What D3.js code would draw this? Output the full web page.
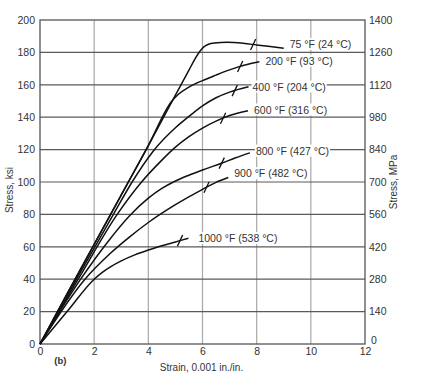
<!DOCTYPE html>
<html>
<head>
<meta charset="utf-8">
<script src="https://cdn.jsdelivr.net/npm/d3@7"></script>
<style>
  html, body { margin: 0; padding: 0; background: #fff; }
  svg { display: block; }
</style>
</head>
<body>
<div id="chart"></div>
<script>
// Stress-strain curves at elevated temperatures, panel (b).

const strainTicks = [0, 2, 4, 6, 8, 10, 12];
const ksiTicks = [0, 20, 40, 60, 80, 100, 120, 140, 160, 180, 200];
const mpaTicks = [0, 140, 280, 420, 560, 700, 840, 980, 1120, 1260, 1400];

const tempLabels = [
  "75 °F (24 °C)", "200 °F (93 °C)", "400 °F (204 °C)", "600 °F (316 °C)",
  "800 °F (427 °C)", "900 °F (482 °C)", "1000 °F (538 °C)"
];

// [strain (0.001 in./in.), stress (ksi)]
const curve75 = [[0, 0], [1, 31], [2, 61.5], [3, 92], [4, 122.5], [4.9, 150.5], [5.5, 169], [5.75, 176.8],
  [5.92, 181], [6.05, 183.4], [6.2, 184.9], [6.45, 185.8], [6.9, 186.2], [7.5, 185.6], [8, 184.6],
  [8.5, 183.6], [9, 182.6]];
const curve200 = [[0, 0], [1, 31], [2, 61.5], [3, 92], [4, 122.5], [4.85, 149.5], [5.1, 154], [5.5, 158.6],
  [6, 162.6], [6.5, 166], [7, 169.2], [7.5, 171.9], [8.1, 174.2]];
const curve400 = [[0, 0], [1.35, 40], [2.71, 80], [3.4, 100], [4.2, 119.5], [5, 133.5], [5.5, 140.5],
  [6, 147], [6.5, 152], [7, 155.5], [7.7, 158.8]];
const curve600 = [[0, 0], [1.41, 40], [2.85, 80], [3.75, 100], [4.5, 113.5], [5, 121.5], [5.5, 128],
  [6, 133.3], [6.5, 137.6], [7, 141], [7.68, 144]];
const curve800 = [[0, 0], [1.5, 40], [2.5, 63], [3.3, 79], [4, 90], [4.5, 96], [5, 100.6],
  [5.5, 104.2], [6, 107.4], [6.7, 111.6], [7.2, 114.8], [7.75, 118]];
const curve900 = [[0, 0], [1.66, 40], [2.6, 56], [3.3, 66], [4, 75], [5, 86], [6, 95.5],
  [6.5, 99.8], [6.95, 102.8]];
const curve1000 = [[0, 0], [1, 20], [2, 40], [2.3, 44.2], [2.6, 47.6], [3, 51.3], [3.5, 55], [4, 58],
  [4.5, 60.6], [5, 63], [5.48, 65.3]];

const curves = [curve75, curve200, curve400, curve600, curve800, curve900, curve1000];
// strain where each curve carries its small slash mark
const breakStrain = [7.87, 7.39, 7.19, 6.76, 6.71, 6.15, 5.17];

// label offsets from each curve's end point, in pixels
const labelDx = [6, 6, 4, 6, 6, 6, 10];
const labelDy = [-3, 0, 1, 0, -1, -3, 1];

const W = 426, H = 377;
const M = { top: 20, right: 61, bottom: 33, left: 40 };

const x = d3.scaleLinear().domain([0, 12]).range([M.left, W - M.right]);
const y = d3.scaleLinear().domain([0, 200]).range([H - M.bottom, M.top]);
const yMpa = d3.scaleLinear().domain([0, 1400]).range([H - M.bottom, M.top]);

const FONT = "'Liberation Sans', Arial, Helvetica, sans-serif";
const TXT = "#333";

const svg = d3.select("#chart").append("svg")
  .attr("width", W).attr("height", H)
  .attr("font-family", FONT)
  .attr("font-size", 10.5);

// grid
const grid = svg.append("g").attr("class", "grid");
grid.selectAll("line.v")
  .data(strainTicks.slice(1, -1))
  .join("line")
    .attr("class", "v")
    .attr("x1", d => x(d)).attr("x2", d => x(d))
    .attr("y1", y(0)).attr("y2", y(200))
    .attr("stroke", "#a8a8a8").attr("stroke-width", 1.2);
grid.selectAll("line.h")
  .data(ksiTicks.slice(1, -1))
  .join("line")
    .attr("class", "h")
    .attr("x1", x(0)).attr("x2", x(12))
    .attr("y1", d => y(d)).attr("y2", d => y(d))
    .attr("stroke", "#5a5a5a").attr("stroke-width", 1.2);

svg.append("rect")
  .attr("x", x(0)).attr("y", y(200))
  .attr("width", x(12) - x(0)).attr("height", y(0) - y(200))
  .attr("fill", "none").attr("stroke", "#555").attr("stroke-width", 1.3);

// axes (labels only)
const gL = svg.append("g")
  .attr("transform", `translate(${x(0)},0)`)
  .call(d3.axisLeft(y).tickValues(ksiTicks).tickSize(0).tickPadding(5));
const gR = svg.append("g")
  .attr("transform", `translate(${x(12)},0)`)
  .call(d3.axisRight(yMpa).tickValues(mpaTicks).tickFormat(d3.format("d")).tickSize(0).tickPadding(4));
const gB = svg.append("g")
  .attr("transform", `translate(0,${y(0)})`)
  .call(d3.axisBottom(x).tickValues(strainTicks).tickSize(0).tickPadding(4));
for (const g of [gL, gR, gB]) {
  g.select(".domain").remove();
  g.selectAll("text").attr("fill", TXT).attr("font-size", 10.5).attr("font-family", FONT);
}
// right-hand zero sits a touch higher, clear of the "12"
gR.selectAll(".tick").filter(d => d === 0).select("text").attr("dx", 2).attr("dy", "-0.05em");

// axis titles
svg.append("text")
  .attr("transform", `translate(13,${(y(0) + y(200)) / 2 + 8}) rotate(-90)`)
  .attr("text-anchor", "middle").attr("fill", TXT).attr("font-size", 10)
  .text("Stress, ksi");
svg.append("text")
  .attr("transform", `translate(${W - 29},${(y(0) + y(200)) / 2}) rotate(-90)`)
  .attr("text-anchor", "middle").attr("fill", TXT).attr("font-size", 10)
  .text("Stress, MPa");
svg.append("text")
  .attr("x", x(6) - 1).attr("y", H - 6)
  .attr("text-anchor", "middle").attr("fill", TXT).attr("font-size", 10)
  .text("Strain, 0.001 in./in.");
svg.append("text")
  .attr("x", x(0.75)).attr("y", H - 13)
  .attr("text-anchor", "middle").attr("fill", TXT).attr("font-size", 9.5)
  .attr("font-weight", "bold")
  .text("(b)");

// curves
const line = d3.line()
  .x(d => x(d[0])).y(d => y(d[1]))
  .curve(d3.curveMonotoneX);

const gC = svg.append("g").attr("class", "curves");
gC.selectAll("path")
  .data(curves)
  .join("path")
    .attr("d", line)
    .attr("fill", "none")
    .attr("stroke", "#111")
    .attr("stroke-width", 1.5)
    .attr("stroke-linejoin", "round");

// slash marks: stress at the break strain
function stressAt(c, s) {
  for (let i = 1; i < c.length; i++) {
    if (s <= c[i][0]) {
      const t = (s - c[i - 1][0]) / (c[i][0] - c[i - 1][0]);
      return c[i - 1][1] + t * (c[i][1] - c[i - 1][1]);
    }
  }
  return c[c.length - 1][1];
}
gC.selectAll("line.brk")
  .data(curves.map((c, i) => [breakStrain[i], stressAt(c, breakStrain[i])]))
  .join("line")
    .attr("class", "brk")
    .attr("x1", d => x(d[0]) - 2.6).attr("y1", d => y(d[1]) + 5.5)
    .attr("x2", d => x(d[0]) + 2.6).attr("y2", d => y(d[1]) - 5.5)
    .attr("stroke", "#111").attr("stroke-width", 1.3);

// temperature labels with a white backing that hides the grid
const gT = svg.append("g").attr("class", "labels");
curves.forEach((c, i) => {
  const end = c[c.length - 1];
  const lx = x(end[0]) + labelDx[i];
  const ly = y(end[1]) + labelDy[i];
  const g = gT.append("g");
  const t = g.append("text")
    .attr("x", lx).attr("y", ly)
    .attr("dominant-baseline", "middle")
    .attr("fill", TXT).attr("font-size", 10.5)
    .text(tempLabels[i]);
  const bb = t.node().getBBox();
  g.insert("rect", "text")
    .attr("x", bb.x - 1).attr("y", bb.y)
    .attr("width", bb.width + 2).attr("height", bb.height)
    .attr("fill", "#fff");
});
</script>
</body>
</html>
